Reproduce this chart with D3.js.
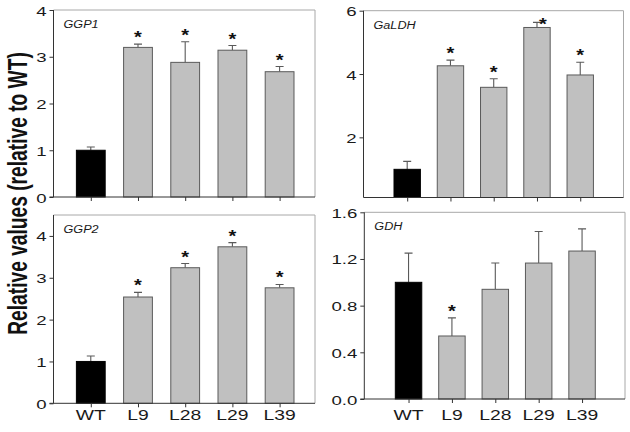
<!DOCTYPE html>
<html>
<head>
<meta charset="utf-8">
<script src="https://cdn.jsdelivr.net/npm/d3@7"></script>
<style>
html,body{margin:0;padding:0;background:#fff;}
svg{display:block;}
</style>
</head>
<body>
<svg id="chart" width="630" height="432"></svg>
<script>
// ---- data ----
const categories = ["WT", "L9", "L28", "L29", "L39"];

const ggp1Values  = [1.00, 3.20, 2.88, 3.14, 2.68];
const ggp1Errors  = [0.07, 0.07, 0.44, 0.10, 0.11];
const ggp1Signif  = [false, true, true, true, true];

const galdhValues = [0.99, 4.26, 3.58, 5.47, 3.97];
const galdhErrors = [0.25, 0.18, 0.27, 0.16, 0.40];
const galdhSignif = [false, true, true, true, true];

const ggp2Values  = [1.00, 2.54, 3.24, 3.74, 2.76];
const ggp2Errors  = [0.13, 0.11, 0.10, 0.10, 0.08];
const ggp2Signif  = [false, true, true, true, true];

const gdhValues   = [1.00, 0.54, 0.94, 1.165, 1.268];
const gdhErrors   = [0.25, 0.155, 0.225, 0.27, 0.19];
const gdhSignif   = [false, true, false, false, false];

const ggp1Ticks  = [0, 1, 2, 3, 4];
const galdhTicks = [2, 4, 6];
const ggp2Ticks  = [0, 1, 2, 3, 4];
const gdhTicks   = [0, 0.4, 0.8, 1.2, 1.6];

const yTitle = "Relative values (relative to WT)";

// ---- layout ----
const svg = d3.select("#chart");
const SX = 1.38; // horizontal stretch of the reference text

const panels = [
  {name:"GGP1",  vals:ggp1Values,  errs:ggp1Errors,  sig:ggp1Signif,  ticks:ggp1Ticks,  fmt:d3.format("d"),
   x0:53.5, x1:315, y0:10, y1:197, ydom:[0,4],   xdom:[-0.79,4.75], labels:false},
  {name:"GaLDH", vals:galdhValues, errs:galdhErrors, sig:galdhSignif, ticks:galdhTicks, fmt:d3.format("d"),
   x0:363.5, x1:623.5, y0:10.7, y1:197.5, ydom:[0.1,6], xdom:[-1.01,5.0], labels:false},
  {name:"GGP2",  vals:ggp2Values,  errs:ggp2Errors,  sig:ggp2Signif,  ticks:ggp2Ticks,  fmt:d3.format("d"),
   x0:53.5, x1:315, y0:215, y1:403.3, ydom:[0,4.5], xdom:[-0.79,4.75], labels:true},
  {name:"GDH",   vals:gdhValues,   errs:gdhErrors,   sig:gdhSignif,   ticks:gdhTicks,   fmt:d3.format(".1f"),
   x0:364.3, x1:625, y0:212.3, y1:399, ydom:[0,1.6], xdom:[-1.02,4.99], labels:true}
];

function stretchedText(g, x, y, txt, opts) {
  return g.append("text")
    .attr("transform", `translate(${x},${y}) scale(${opts.sx||SX},1)`)
    .attr("text-anchor", opts.anchor || "middle")
    .attr("font-family", "Liberation Sans, Arial, sans-serif")
    .attr("font-size", opts.size)
    .attr("font-weight", opts.weight || "normal")
    .attr("font-style", opts.style || "normal")
    .attr("fill", opts.fill || "#1a1a1a")
    .text(txt);
}

panels.forEach(p => {
  const g = svg.append("g");
  const x = d3.scaleLinear().domain(p.xdom).range([p.x0, p.x1]);
  const y = d3.scaleLinear().domain(p.ydom).range([p.y1, p.y0]);
  const bw = (x(1) - x(0)) * 0.61;

  // frame top/right (light)
  g.append("path")
    .attr("d", `M${p.x0},${p.y0}H${p.x1}V${p.y1}`)
    .attr("fill", "none").attr("stroke", "#a8a8a8").attr("stroke-width", 1);

  // bars
  const data = categories.map((c, i) => ({c, i, v: p.vals[i], e: p.errs[i], s: p.sig[i]}));
  // error bars
  g.selectAll(".err").data(data).enter().append("path")
    .attr("d", d => `M${x(d.i)},${y(d.v)}V${y(d.v + d.e)}M${x(d.i)-4},${y(d.v + d.e)}H${x(d.i)+4}`)
    .attr("stroke", "#5a5a5a").attr("stroke-width", 1.1).attr("fill", "none");

  g.selectAll(".bar").data(data).enter().append("rect")
    .attr("x", d => x(d.i) - bw / 2)
    .attr("width", bw)
    .attr("y", d => y(d.v))
    .attr("height", d => p.y1 - y(d.v))
    .attr("fill", d => d.i === 0 ? "#000" : "#c0c0c0")
    .attr("stroke", d => d.i === 0 ? "#000" : "#5a5a5a")
    .attr("stroke-width", 1);

  // asterisks
  data.filter(d => d.s).forEach(d => {
    const ey = y(d.v + d.e);
    let cx = x(d.i), cy = ey - 10;
    if (cy < p.y0 + 8) { cy = ey - 1; cx = x(d.i) + 6; }
    stretchedText(g, cx, cy + 9, "*", {size: 16, weight: "bold", sx: 1.25, fill: "#111"});
  });

  // left axis
  const ya = d3.axisLeft(y).tickValues(p.ticks).tickSize(4).tickFormat(p.fmt);
  const yg = g.append("g").attr("transform", `translate(${p.x0},0)`).call(ya);
  yg.select(".domain").attr("d", `M${p.x0 - p.x0},${p.y0}V${p.y1}`).attr("stroke", "#333");
  yg.selectAll(".tick line").attr("stroke", "#333");
  yg.selectAll(".tick text")
    .attr("x", null).attr("dy", null)
    .attr("transform", `translate(-7,5) scale(${SX},1)`)
    .attr("font-family", "Liberation Sans, Arial, sans-serif")
    .attr("font-size", 13.5)
    .attr("fill", "#1a1a1a");

  // bottom axis
  const xa = d3.axisBottom(x).tickValues(d3.range(categories.length)).tickSize(4).tickFormat("");
  const xg = g.append("g").attr("transform", `translate(0,${p.y1})`).call(xa);
  xg.select(".domain").attr("d", `M${p.x0 - (p.ticks[0] === 0 ? 4 : 0)},0H${p.x1}`).attr("stroke", "#333");
  xg.selectAll(".tick line").attr("stroke", "#333");

  if (p.labels) {
    data.forEach(d => stretchedText(g, x(d.i), 420, d.c, {size: 14}));
  }

  // panel label
  stretchedText(g, p.x0 + 10, p.y0 + 18, p.name, {size: 11, style: "italic", anchor: "start", sx: 1.15});
});

// y title
svg.append("text")
  .attr("transform", `translate(27,193.5) scale(1.4,1) rotate(-90)`)
  .attr("text-anchor", "middle")
  .attr("font-family", "Liberation Sans, Arial, sans-serif")
  .attr("font-size", 19.2)
  .attr("font-weight", "bold")
  .attr("fill", "#111")
  .text(yTitle);
</script>
</body>
</html>
